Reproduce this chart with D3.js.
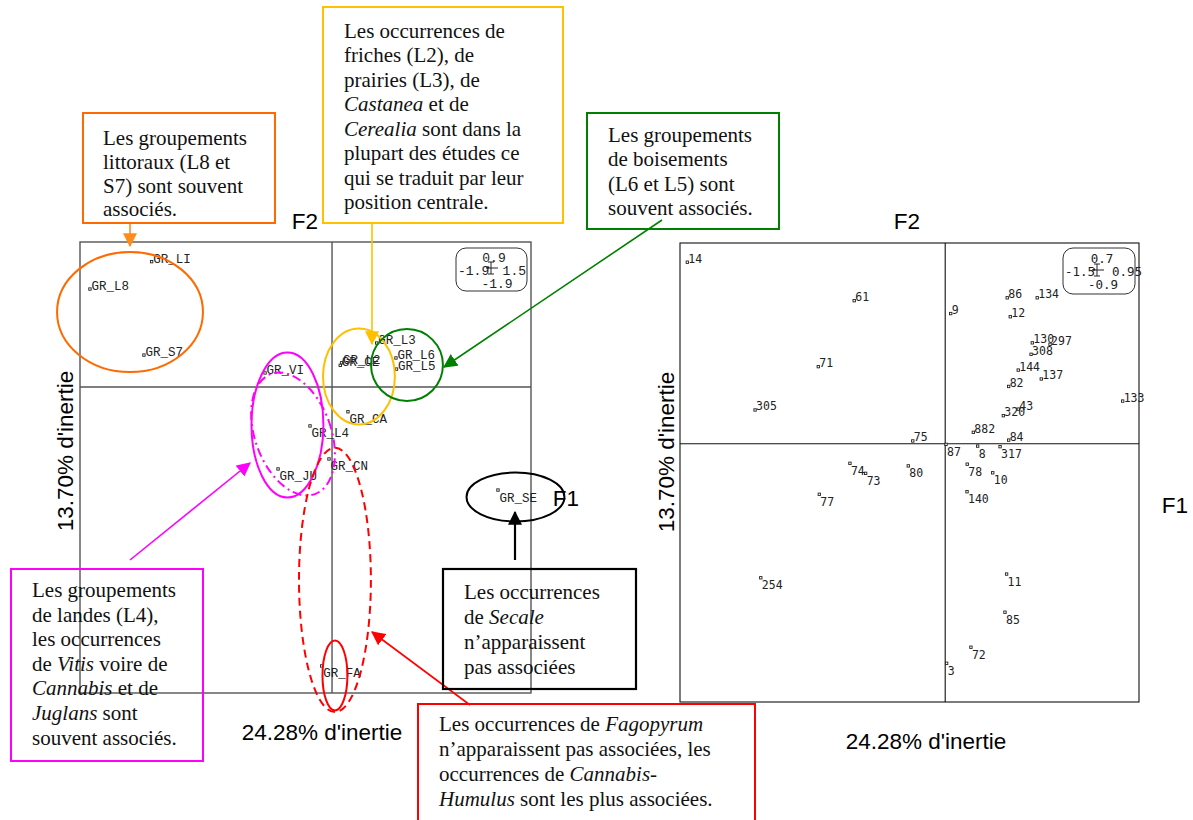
<!DOCTYPE html>
<html><head><meta charset="utf-8">
<script src="https://cdn.jsdelivr.net/npm/d3@7"></script>
<style>body{margin:0;background:#fff} svg{display:block}</style>
</head><body>
<svg id="c" width="1193" height="820"></svg>
<script>
// ---------- data ----------
const leftLabels = ["GR_LI","GR_L8","GR_S7","GR_VI","GR_L3","GR_L2","GR_CE","GR_L6","GR_L5","GR_CA","GR_L4","GR_CN","GR_JU","GR_SE","GR_FA"];
const leftX      = [-1.36, -1.825, -1.418, -0.505, 0.337, 0.072, 0.062, 0.482, 0.486, 0.12, -0.166, -0.023, -0.407, 1.251, -0.078];
const leftY      = [0.778, 0.608, 0.198, 0.087, 0.273, 0.15, 0.134, 0.18, 0.111, -0.154, -0.242, -0.447, -0.509, -0.64, -1.732];
const leftXDomain = [-1.9, 1.5];
const leftYDomain = [-1.9, 0.9];
const leftScaleBox = ["0.9", "-1.9", "1.5", "-1.9"];

const rightLabels = ["14","61","71","305","75","9","86","134","12","130","297","308","144","137","82","133","43","320","882","84","87","8","317","74","73","80","77","78","10","140","254","11","85","72","3"];
const rightX      = [-1.264,-0.446,-0.622,-0.932,-0.159,0.027,0.304,0.451,0.319,0.427,0.514,0.421,0.358,0.471,0.311,0.87,0.358,0.285,0.138,0.311,0.004,0.159,0.269,-0.467,-0.39,-0.181,-0.617,0.108,0.233,0.107,-0.904,0.301,0.293,0.126,0.007];
const rightY      = [0.633,0.499,0.269,0.118,0.01,0.454,0.509,0.509,0.443,0.352,0.347,0.312,0.257,0.226,0.2,0.149,0.121,0.098,0.04,0.013,-0.002,-0.008,-0.01,-0.068,-0.103,-0.077,-0.176,-0.071,-0.101,-0.167,-0.467,-0.454,-0.587,-0.709,-0.765];
const rightXDomain = [-1.3, 0.95];
const rightYDomain = [-0.9, 0.7];
const rightScaleBox = ["0.7", "-1.5", "0.95", "-0.9"];

const axisF1 = "F1", axisF2 = "F2";
const inertiaF1 = "24.28% d'inertie", inertiaF2 = "13.70% d'inertie";

// annotation ellipses on the left map (data units: cx, cy, rx, ry, rotation deg, colour, dash)
const ellCx   = [-1.523, 0.203, 0.565, -0.336, -0.294, 0.022, 0.022, 1.383];
const ellCy   = [0.465, 0.065, 0.136, -0.236, -0.292, -1.198, -1.791, -0.683];
const ellRx   = [0.55, 0.271, 0.271, 0.271, 0.2865, 0.271, 0.094, 0.369];
const ellRy   = [0.3725, 0.298, 0.2235, 0.45, 0.397, 0.82, 0.217, 0.152];
const ellRot  = [0, 0, 0, 0, -20, 0, 0, 0];
const ellCol  = ["#ff6a00","#ffc000","#008000","#ff00ff","#ff00ff","#ff0000","#ff0000","#000000"];
const ellDash = [null, null, null, null, "9,4,2,4", "8,5", null, null];

// ---------- drawing ----------
const svg = d3.select("#c");
const defs = svg.append("defs");

function plot(cfg){
  const g = svg.append("g");
  const x = d3.scaleLinear().domain(cfg.xd).range([cfg.x0, cfg.x1]);
  const y = d3.scaleLinear().domain(cfg.yd).range([cfg.y1, cfg.y0]);
  g.append("rect").attr("x",cfg.x0).attr("y",cfg.y0).attr("width",cfg.x1-cfg.x0).attr("height",cfg.y1-cfg.y0)
    .attr("fill","none").attr("stroke",cfg.lc).attr("stroke-width",cfg.lw);
  g.append("line").attr("x1",x(0)).attr("x2",x(0)).attr("y1",cfg.y0).attr("y2",cfg.y1).attr("stroke",cfg.lc).attr("stroke-width",cfg.lw);
  g.append("line").attr("x1",cfg.x0).attr("x2",cfg.x1).attr("y1",y(0)).attr("y2",y(0)).attr("stroke",cfg.lc).attr("stroke-width",cfg.lw);
  const pts = cfg.labels.map((l,i)=>({l, x:cfg.xs[i], y:cfg.ys[i]}));
  g.selectAll("rect.pt").data(pts).join("rect").attr("class","pt")
    .attr("x",d=>x(d.x)-1.2).attr("y",d=>y(d.y)-1.2).attr("width",2.4).attr("height",2.4)
    .attr("fill","#fff").attr("stroke","#222").attr("stroke-width",0.9);
  g.selectAll("text.lb").data(pts).join("text").attr("class","lb")
    .attr("x",d=>x(d.x)+cfg.dx).attr("y",d=>y(d.y)+(d.y>=0?cfg.dyUp:cfg.dyDown))
    .attr("font-family",cfg.font).attr("font-size",cfg.fs).attr("fill","#222").text(d=>d.l);
  // scale box
  const b = cfg.box;
  g.append("rect").attr("x",b.x).attr("y",b.y).attr("width",b.w).attr("height",b.h).attr("rx",10)
    .attr("fill","none").attr("stroke","#333").attr("stroke-width",1);
  const bt = (t,xx,yy,a)=>g.append("text").attr("x",xx).attr("y",yy).attr("text-anchor",a)
    .attr("font-family",cfg.font).attr("font-size",cfg.bfs).attr("fill","#222").text(t);
  bt(cfg.boxText[0], b.tx, b.r1, "middle");
  bt(cfg.boxText[1], b.lx, b.r2, "start");
  bt(cfg.boxText[2], b.rx, b.r2, "end");
  bt(cfg.boxText[3], b.bx, b.r3, "middle");
  const cx=b.cx, cy=b.cy;
  g.append("path").attr("d",`M${cx},${cy-6}V${cy+6}M${cx-3},${cy-6}H${cx+3}M${cx-3},${cy+6}H${cx+3}M${cx-5},${cy}H${cx+7}`)
    .attr("stroke","#222").attr("stroke-width",1).attr("fill","none");
  g.append("circle").attr("cx",cx-3).attr("cy",cy-0.5).attr("r",1.3).attr("fill","#222");
  // axis titles
  const tf = "'Liberation Sans', Arial, sans-serif", tfs = 22.5;
  g.append("text").attr("x",cfg.f2x).attr("y",cfg.f2y).attr("text-anchor","middle").attr("font-family",tf).attr("font-size",tfs).text(axisF2);
  g.append("text").attr("x",cfg.f1x).attr("y",cfg.f1y).attr("text-anchor","middle").attr("font-family",tf).attr("font-size",tfs).text(axisF1);
  g.append("text").attr("x",cfg.ixx).attr("y",cfg.ixy).attr("text-anchor","middle").attr("font-family",tf).attr("font-size",tfs).text(inertiaF1);
  g.append("text").attr("transform",`translate(${cfg.iyx},${cfg.iyy}) rotate(-90)`).attr("text-anchor","middle").attr("font-family",tf).attr("font-size",tfs).text(inertiaF2);
  return {x,y};
}

const L = plot({x0:80,x1:531,y0:242,y1:693,xd:leftXDomain,yd:leftYDomain,lc:"#555",lw:1.4,
  labels:leftLabels,xs:leftX,ys:leftY,font:"'Liberation Mono', 'Courier New', monospace",fs:12.5,dx:1.5,dyUp:1,dyDown:11.5,
  box:{x:456,y:248,w:71,h:43,tx:494,lx:458,rx:526,bx:497,r1:262,r2:275,r3:288,cx:491,cy:268},boxText:leftScaleBox,bfs:13,
  f2x:305,f2y:229,f1x:566,f1y:506,ixx:322,ixy:740,iyx:73,iyy:451});

const R = plot({x0:680,x1:1139,y0:243,y1:702,xd:rightXDomain,yd:rightYDomain,lc:"#111",lw:1.1,
  labels:rightLabels,xs:rightX,ys:rightY,font:"'DejaVu Sans Mono', monospace",fs:11.5,dx:1,dyUp:0.5,dyDown:11.5,
  box:{x:1063,y:248,w:72,h:46,tx:1102,lx:1065,rx:1142,bx:1103,r1:263,r2:276,r3:289,cx:1097,cy:270},boxText:rightScaleBox,bfs:12.5,
  f2x:907,f2y:229,f1x:1175,f1y:513,ixx:926,ixy:749,iyx:674,iyy:452});

// ellipses
const eg = svg.append("g");
ellCx.forEach((c,i)=>{
  const px = L.x(c), py = L.y(ellCy[i]);
  const rx = L.x(ellRx[i]) - L.x(0), ry = L.y(0) - L.y(ellRy[i]);
  const e = eg.append("ellipse").attr("cx",0).attr("cy",0).attr("rx",rx).attr("ry",ry)
    .attr("transform",`translate(${px},${py}) rotate(${ellRot[i]})`)
    .attr("fill","none").attr("stroke",ellCol[i]).attr("stroke-width",2);
  if (ellDash[i]) e.attr("stroke-dasharray",ellDash[i]);
});

// arrows
function marker(id,col){
  defs.append("marker").attr("id",id).attr("viewBox","0 0 12 12").attr("refX",11).attr("refY",6)
    .attr("markerWidth",14).attr("markerHeight",14).attr("markerUnits","userSpaceOnUse").attr("orient","auto")
    .append("path").attr("d","M0,0L12,6L0,12z").attr("fill",col);
}
const arrows = [
  ["#ff8c1a",130,224,130,246],
  ["#ffc000",372,223,372,344],
  ["#008000",662,220,444,367],
  ["#ff00ff",130,560,250,463],
  ["#000000",515,560,515,512],
  ["#ff0000",470,705,372,632]
];
arrows.forEach((a,i)=>{
  marker("m"+i,a[0]);
  svg.append("line").attr("x1",a[1]).attr("y1",a[2]).attr("x2",a[3]).attr("y2",a[4])
    .attr("stroke",a[0]).attr("stroke-width",i===4?2.2:1.6).attr("marker-end",`url(#m${i})`);
});

// annotation boxes
function box(bx,by,bw,bh,col,sw,tx,ty,lh,lines){
  svg.append("rect").attr("x",bx).attr("y",by).attr("width",bw).attr("height",bh)
    .attr("fill","none").attr("stroke",col).attr("stroke-width",sw);
  const t = svg.append("text").attr("font-family","'Liberation Serif','Times New Roman',serif").attr("font-size",21).attr("fill","#111");
  lines.forEach((ln,i)=>{
    const parts = ln.split("*");
    parts.forEach((p,j)=>{
      if(!p) return;
      const s = t.append("tspan").text(p);
      if (j%2===1) s.attr("font-style","italic");
      if (j===0 || (j===1 && parts[0]==="")) s.attr("x",tx).attr("y",ty+i*lh);
    });
  });
}
box(83,113,192,110,"#ff6a00",2,103,145,23.8,["Les groupements","littoraux (L8 et","S7) sont souvent","associés."]);
box(323,7,240,216,"#ffc000",2,344,37.5,24.5,["Les occurrences de","friches (L2), de","prairies (L3), de","*Castanea* et de","*Cerealia* sont dans la","plupart des études ce","qui se traduit par leur","position centrale."]);
box(587,113,192,116,"#008000",2,608,142,24.3,["Les groupements","de boisements","(L6 et L5) sont","souvent associés."]);
box(11,569,192,192,"#ff00ff",2,32,597,24.6,["Les groupements","de landes (L4),","les occurrences","de *Vitis* voire de","*Cannabis* et de","*Juglans* sont","souvent associés."]);
box(443,569,193,120,"#000000",2.2,464,598.5,25,["Les occurrences","de *Secale*","n’apparaissent","pas associées"]);
box(418,704,337,130,"#ff0000",2,439,731,25,["Les occurrences de *Fagopyrum*","n’apparaissent pas associées, les","occurrences de *Cannabis-*","*Humulus* sont les plus associées."]);
</script>
</body></html>
